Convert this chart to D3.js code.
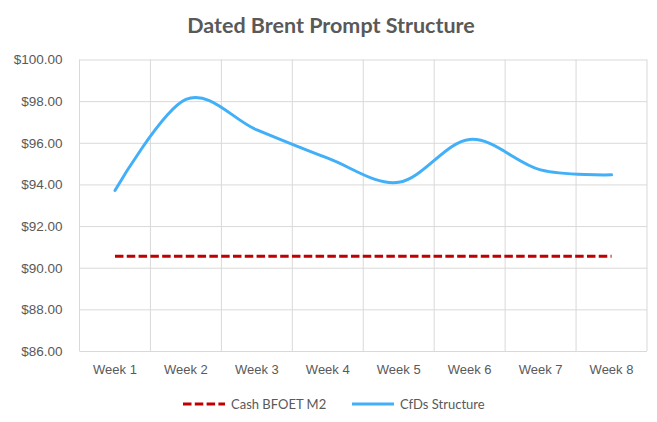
<!DOCTYPE html>
<html>
<head>
<meta charset="utf-8">
<script src="https://cdn.jsdelivr.net/npm/d3@7"></script>
<style>
  body { margin: 0; background: #fff; }
  svg { font-family: Lato, "Open Sans", sans-serif; }
</style>
</head>
<body>
<div id="chart"></div>
<script>
const width = 657;
const height = 422;

// data
const weeks = ['Week 1', 'Week 2', 'Week 3', 'Week 4', 'Week 5', 'Week 6', 'Week 7', 'Week 8'];
const cashBfoet = [90.55, 90.55, 90.55, 90.55, 90.55, 90.55, 90.55, 90.55];
const cfdsStructure = [93.71, 98.08, 96.62, 95.26, 94.10, 96.16, 94.70, 94.46];
const yTicks = [86, 88, 90, 92, 94, 96, 98, 100];
const seriesNames = ['Cash BFOET M2', 'CfDs Structure'];

const margin = { top: 59.5, right: 10, bottom: 71, left: 79.5 };
const textColor = '#595959';
const gridColor = '#D9D9D9';

const svg = d3.select('#chart').append('svg')
  .attr('width', width)
  .attr('height', height);

// title
svg.append('text')
  .attr('x', 331)
  .attr('y', 33)
  .attr('text-anchor', 'middle')
  .attr('font-size', 21.5)
  .attr('font-weight', 'bold')
  .attr('fill', textColor)
  .text('Dated Brent Prompt Structure');

// band scale for gridlines, point in the middle of each band
const xBand = d3.scaleBand()
  .domain(weeks)
  .range([margin.left, width - margin.right]);
const xPos = d => xBand(d) + xBand.bandwidth() / 2;

const yScale = d3.scaleLinear()
  .domain([86, 100])
  .range([height - margin.bottom, margin.top]);

// horizontal gridlines + labels
const yAxis = d3.axisLeft(yScale)
  .tickValues(yTicks)
  .tickSize(-(width - margin.left - margin.right))
  .tickPadding(17)
  .tickFormat(d => '$' + d3.format('.2f')(d));

const gy = svg.append('g')
  .attr('transform', `translate(${margin.left},0)`)
  .call(yAxis);
gy.select('.domain').remove();
gy.selectAll('line').attr('stroke', gridColor);
gy.selectAll('text')
  .attr('fill', textColor)
  .attr('font-size', 13.5);

// vertical gridlines at band edges
const edges = weeks.map(w => xBand(w)).concat([width - margin.right]);
svg.append('g').selectAll('line').data(edges)
  .enter().append('line')
  .attr('x1', d => d).attr('x2', d => d)
  .attr('y1', margin.top).attr('y2', height - margin.bottom)
  .attr('stroke', gridColor);

// x labels
const xAxis = d3.axisBottom(xBand).tickSize(0).tickPadding(14);
const gx = svg.append('g')
  .attr('transform', `translate(0,${height - margin.bottom})`)
  .call(xAxis);
gx.select('.domain').remove();
gx.selectAll('text')
  .attr('fill', textColor)
  .attr('font-size', 13);

// series
const line = d3.line()
  .x((d, i) => xPos(weeks[i]))
  .y(d => yScale(d));

svg.append('path')
  .datum(cashBfoet)
  .attr('d', line.curve(d3.curveLinear))
  .attr('fill', 'none')
  .attr('stroke', '#C00000')
  .attr('stroke-width', 3)
  .attr('stroke-dasharray', '8.5,3.3');

svg.append('path')
  .datum(cfdsStructure)
  .attr('d', line.curve(d3.curveCardinal.tension(0)))
  .attr('fill', 'none')
  .attr('stroke', '#42AFF9')
  .attr('stroke-width', 3)
  .attr('stroke-linecap', 'round');

// legend
const legend = svg.append('g').attr('transform', 'translate(0,404)');
const legendItems = [
  { name: seriesNames[0], x: 183, color: '#C00000', dash: '8.5,3.3' },
  { name: seriesNames[1], x: 352, color: '#42AFF9', dash: null }
];
legendItems.forEach(item => {
  legend.append('line')
    .attr('x1', item.x).attr('x2', item.x + 42)
    .attr('y1', 0).attr('y2', 0)
    .attr('stroke', item.color)
    .attr('stroke-width', 3)
    .attr('stroke-dasharray', item.dash);
  legend.append('text')
    .attr('x', item.x + 48)
    .attr('y', 4.5)
    .attr('font-size', 13)
    .attr('fill', textColor)
    .text(item.name);
});
</script>
</body>
</html>
